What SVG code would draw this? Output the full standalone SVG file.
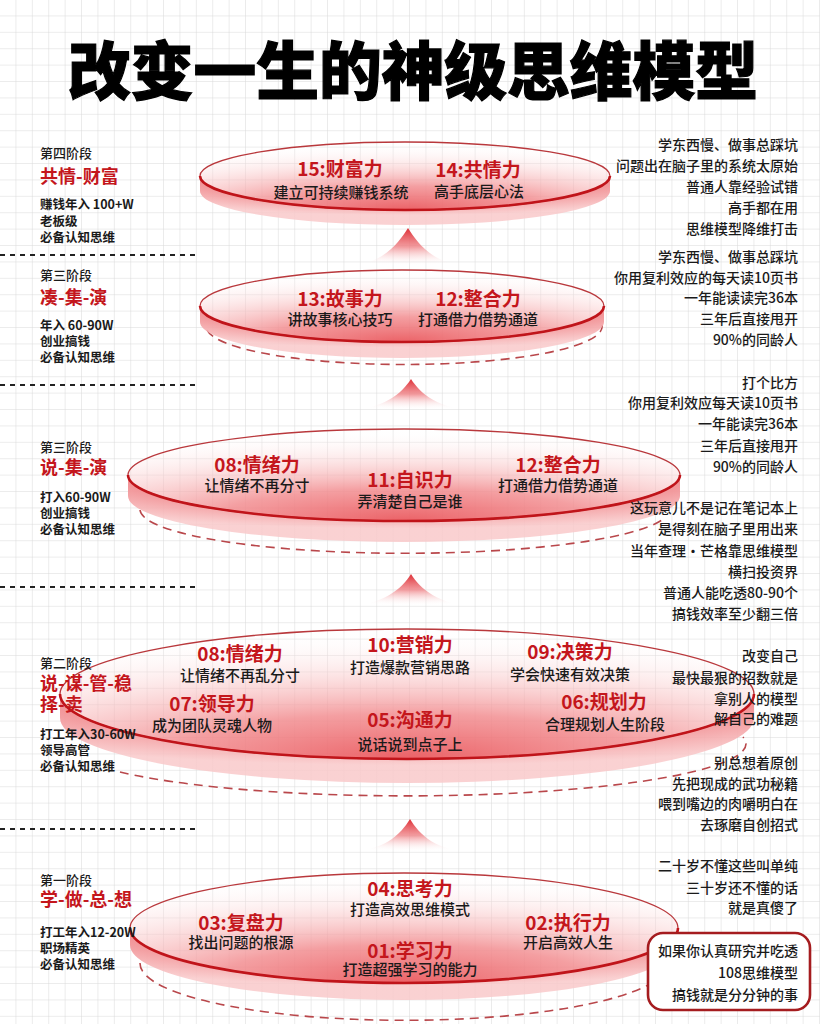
<svg xmlns="http://www.w3.org/2000/svg" width="820" height="1024" viewBox="0 0 820 1024">
<defs>
<pattern id="grid" width="16.4" height="16.4" patternUnits="userSpaceOnUse">
<path d="M16.4 0V16.4M0 16.4H16.4" fill="none" stroke="#d9d9d9" stroke-width="1"/>
</pattern>
<radialGradient id="faceGrad" cx="0.5" cy="1" r="1">
<stop offset="0" stop-color="#ea5a5f" stop-opacity="0.95"/>
<stop offset="0.35" stop-color="#f28e91" stop-opacity="0.85"/>
<stop offset="0.7" stop-color="#fbd3d4" stop-opacity="0.45"/>
<stop offset="1" stop-color="#ffffff" stop-opacity="0"/>
</radialGradient>
<radialGradient id="bandGrad" cx="0.5" cy="0" r="0.8">
<stop offset="0" stop-color="#e4454b"/>
<stop offset="0.55" stop-color="#ef8286"/>
<stop offset="1" stop-color="#f9c9ca" stop-opacity="0.85"/>
</radialGradient>
<radialGradient id="coneGrad" cx="0.5" cy="0" r="1">
<stop offset="0" stop-color="#de2f36"/>
<stop offset="0.5" stop-color="#ef8387" stop-opacity="0.8"/>
<stop offset="1" stop-color="#ffffff" stop-opacity="0"/>
</radialGradient>
<style>
.face{fill:url(#faceGrad);stroke:#b9383c;stroke-width:1.3}
.band{fill:url(#bandGrad)}
.rim{fill:none;stroke:#c0141a;stroke-width:2.6}
.dash{fill:none;stroke:#b9474b;stroke-width:1.6;stroke-dasharray:9 6}
.cone{fill:url(#coneGrad)}
.sep{stroke:#222;stroke-width:2;stroke-dasharray:5 5}
text{font-family:"Noto Sans CJK SC","Noto Sans",sans-serif}
.t{font-size:19px;font-weight:700;fill:#c4161c;text-anchor:middle}
.s{font-size:15px;font-weight:500;fill:#1a1a1a;text-anchor:middle}
.st{font-size:13px;font-weight:500;fill:#1a1a1a}
.sr{font-size:18px;font-weight:700;fill:#c4161c}
.sd{font-size:12.5px;font-weight:700;fill:#1a1a1a}
.r{font-size:14px;font-weight:500;fill:#1a1a1a;text-anchor:end}
</style>
</defs>
<rect width="820" height="1024" fill="#ffffff"/>
<rect width="820" height="1024" fill="url(#grid)"/>

<text id="title" x="413" y="94" text-anchor="middle" textLength="690" lengthAdjust="spacingAndGlyphs" style="font-size:63px;font-weight:900;fill:#000;stroke:#000;stroke-width:1.2">改变一生的神级思维模型</text>

<g id="separators">
<line class="sep" x1="0" y1="255" x2="196" y2="255"/>
<line class="sep" x1="0" y1="385" x2="196" y2="385"/>
<line class="sep" x1="0" y1="587" x2="196" y2="587"/>
<line class="sep" x1="0" y1="829" x2="196" y2="829"/>
</g>

<g id="stage-labels">
<g id="stage4-label">
<text class="st" x="40" y="158">第四阶段</text>
<text class="sr" x="40" y="183">共情-财富</text>
<text class="sd" x="40" y="209">赚钱年入 100+W</text>
<text class="sd" x="40" y="226">老板级</text>
<text class="sd" x="40" y="242">必备认知思维</text>
</g>
<g id="stage3a-label">
<text class="st" x="40" y="280">第三阶段</text>
<text class="sr" x="40" y="304">凑-集-演</text>
<text class="sd" x="40" y="330">年入 60-90W</text>
<text class="sd" x="40" y="346">创业搞钱</text>
<text class="sd" x="40" y="362">必备认知思维</text>
</g>
<g id="stage3b-label">
<text class="st" x="40" y="452">第三阶段</text>
<text class="sr" x="40" y="474">说-集-演</text>
<text class="sd" x="40" y="502">打入60-90W</text>
<text class="sd" x="40" y="518">创业搞钱</text>
<text class="sd" x="40" y="534">必备认知思维</text>
</g>
</g>

<g id="connectors">
<path class="cone" d="M344 266 C383 266 399 242 408 228 C417 242 433 266 472 266 Z"/>
<path class="cone" d="M343 410 C384 410 402 393 411 379 C420 393 438 410 479 410 Z"/>
<path class="cone" d="M343 606 C384 606 402 588 411 574 C420 588 438 606 479 606 Z"/>
<path class="cone" d="M344 852 C384 852 401 834 410 819 C419 834 436 852 476 852 Z"/>
</g>

<g id="disc-stage4">
<path class="band" d="M200 176 A205 34 0 0 0 610 176 L610 191 A205 34 0 0 1 200 191 Z"/>
<ellipse class="face" cx="405" cy="176" rx="205" ry="34"/>
<path class="rim" d="M200 176 A205 34 0 0 0 610 176"/>
<g id="n15"><text class="t" x="340" y="176">15:财富力</text><text class="s" x="341" y="198">建立可持续赚钱系统</text></g>
<g id="n14"><text class="t" x="478" y="177">14:共情力</text><text class="s" x="479" y="197">高手底层心法</text></g>
</g>

<g id="disc-stage3a">
<path class="dash" d="M207 330 A198 38 0 0 0 602 325"/>
<path class="band" d="M200 306 A202 36 0 0 0 604 306 L604 322 A202 36 0 0 1 200 322 Z"/>
<ellipse class="face" cx="402" cy="306" rx="202" ry="36"/>
<path class="rim" d="M200 306 A202 36 0 0 0 604 306"/>
<g id="n13"><text class="t" x="340" y="306">13:故事力</text><text class="s" x="340" y="325">讲故事核心技巧</text></g>
<g id="n12a"><text class="t" x="478" y="306">12:整合力</text><text class="s" x="478" y="325">打通借力借势通道</text></g>
</g>

<g id="disc-stage3b">
<path class="dash" d="M140 510 A265 44 0 0 0 662 520"/>
<path class="band" d="M128 475 A276 46 0 0 0 680 475 L680 496 A276 46 0 0 1 128 496 Z"/>
<ellipse class="face" cx="404" cy="475" rx="276" ry="46"/>
<path class="rim" d="M128 475 A276 46 0 0 0 680 475"/>
<g id="n08a"><text class="t" x="257" y="472">08:情绪力</text><text class="s" x="257" y="491">让情绪不再分寸</text></g>
<g id="n11"><text class="t" x="410" y="487">11:自识力</text><text class="s" x="410" y="507">弄清楚自己是谁</text></g>
<g id="n12b"><text class="t" x="558" y="472">12:整合力</text><text class="s" x="558" y="491">打通借力借势通道</text></g>
</g>

<g id="disc-stage2">
<path class="dash" d="M120 772 A340 52 0 0 0 743 737"/>
<path class="band" d="M60 694 A347 65 0 0 0 754 694 L754 718 A347 65 0 0 1 60 718 Z"/>
<ellipse class="face" cx="407" cy="694" rx="347" ry="65"/>
<path class="rim" d="M60 694 A347 65 0 0 0 754 694"/>
<g id="n08b"><text class="t" x="240" y="661">08:情绪力</text><text class="s" x="240" y="681">让情绪不再乱分寸</text></g>
<g id="n10"><text class="t" x="410" y="652">10:营销力</text><text class="s" x="410" y="673">打造爆款营销思路</text></g>
<g id="n09"><text class="t" x="570" y="659">09:决策力</text><text class="s" x="570" y="680">学会快速有效决策</text></g>
<g id="n07"><text class="t" x="212" y="711">07:领导力</text><text class="s" x="212" y="731">成为团队灵魂人物</text></g>
<g id="n05"><text class="t" x="410" y="727">05:沟通力</text><text class="s" x="410" y="750">说话说到点子上</text></g>
<g id="n06"><text class="t" x="604" y="709">06:规划力</text><text class="s" x="605" y="730">合理规划人生阶段</text></g>
</g>

<g id="stage2-label">
<text class="st" x="40" y="668">第二阶段</text>
<text class="sr" x="40" y="690">说-谋-管-稳</text>
<text class="sr" x="40" y="711">择-卖</text>
<text class="sd" x="40" y="739">打工年入30-60W</text>
<text class="sd" x="40" y="755">领导高管</text>
<text class="sd" x="40" y="771">必备认知思维</text>
</g>

<g id="disc-stage1">
<path class="dash" d="M140 963 A264 57 0 0 0 650 984"/>
<path class="band" d="M130 928 A274 55 0 0 0 678 928 L678 945 A274 55 0 0 1 130 945 Z"/>
<ellipse class="face" cx="404" cy="928" rx="274" ry="55"/>
<path class="rim" d="M130 928 A274 55 0 0 0 678 928"/>
<g id="n04"><text class="t" x="410" y="896">04:思考力</text><text class="s" x="410" y="915">打造高效思维模式</text></g>
<g id="n03"><text class="t" x="241" y="930">03:复盘力</text><text class="s" x="241" y="948">找出问题的根源</text></g>
<g id="n01"><text class="t" x="410" y="958">01:学习力</text><text class="s" x="410" y="975">打造超强学习的能力</text></g>
<g id="n02"><text class="t" x="568" y="930">02:执行力</text><text class="s" x="568" y="948">开启高效人生</text></g>
</g>

<g id="stage1-label">
<text class="st" x="40" y="885">第一阶段</text>
<text class="sr" x="40" y="906">学-做-总-想</text>
<text class="sd" x="40" y="937">打工年入12-20W</text>
<text class="sd" x="40" y="953">职场精英</text>
<text class="sd" x="40" y="969">必备认知思维</text>
</g>

<g id="notes">
<text class="r" x="798" y="150">学东西慢、做事总踩坑</text>
<text class="r" x="798" y="171">问题出在脑子里的系统太原始</text>
<text class="r" x="798" y="192">普通人靠经验试错</text>
<text class="r" x="798" y="213">高手都在用</text>
<text class="r" x="798" y="234">思维模型降维打击</text>
<text class="r" x="798" y="262">学东西慢、做事总踩坑</text>
<text class="r" x="798" y="283">你用复利效应的每天读10页书</text>
<text class="r" x="798" y="303">一年能读读完36本</text>
<text class="r" x="798" y="324">三年后直接甩开</text>
<text class="r" x="798" y="345">90%的同龄人</text>
<text class="r" x="798" y="388">打个比方</text>
<text class="r" x="798" y="408">你用复利效应每天读10页书</text>
<text class="r" x="798" y="429">一年能读完36本</text>
<text class="r" x="798" y="451">三年后直接甩开</text>
<text class="r" x="798" y="472">90%的同龄人</text>
<text class="r" x="798" y="513">这玩意儿不是记在笔记本上</text>
<text class="r" x="798" y="534">是得刻在脑子里用出来</text>
<text class="r" x="798" y="556">当年查理·芒格靠思维模型</text>
<text class="r" x="798" y="577">横扫投资界</text>
<text class="r" x="798" y="598">普通人能吃透80-90个</text>
<text class="r" x="798" y="619">搞钱效率至少翻三倍</text>
<text class="r" x="798" y="661">改变自己</text>
<text class="r" x="798" y="683">最快最狠的招数就是</text>
<text class="r" x="798" y="704">拿别人的模型</text>
<text class="r" x="798" y="724">解自己的难题</text>
<text class="r" x="798" y="768">别总想着原创</text>
<text class="r" x="798" y="789">先把现成的武功秘籍</text>
<text class="r" x="798" y="809">喂到嘴边的肉嚼明白在</text>
<text class="r" x="798" y="830">去琢磨自创招式</text>
<text class="r" x="798" y="871">二十岁不懂这些叫单纯</text>
<text class="r" x="798" y="893">三十岁还不懂的话</text>
<text class="r" x="798" y="913">就是真傻了</text>
</g>

<g id="callout">
<rect x="648" y="933" width="162" height="77" rx="15" fill="#ffffff" stroke="#a51c1f" stroke-width="2.6"/>
<text class="r" x="798" y="956">如果你认真研究并吃透</text>
<text class="r" x="798" y="978">108思维模型</text>
<text class="r" x="798" y="1000">搞钱就是分分钟的事</text>
</g>
</svg>
